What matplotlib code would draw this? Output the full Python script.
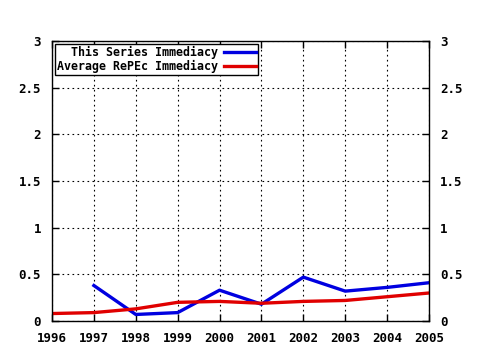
import matplotlib
matplotlib.use("Agg")
import matplotlib.pyplot as plt
from matplotlib.ticker import MultipleLocator, FuncFormatter

years_blue = [1997, 1998, 1999, 2000, 2001, 2002, 2003, 2004, 2005]
series_imm = [0.38, 0.07, 0.09, 0.33, 0.18, 0.47, 0.32, 0.36, 0.41]
years_red = [1996, 1997, 1998, 1999, 2000, 2001, 2002, 2003, 2004, 2005]
repec_imm = [0.08, 0.09, 0.13, 0.20, 0.21, 0.19, 0.21, 0.22, 0.26, 0.30]
labels = ["  This Series Immediacy", "Average RePEc Immediacy"]

font = "DejaVu Sans Mono"
fs = 8.4
fig = plt.figure(figsize=(4.8, 3.5), dpi=100)
ax = fig.add_axes([52/480, 29/350, 377/480, 280/350])
ax.plot(years_blue, series_imm, color="#0000e0", lw=2.4, label=labels[0])
ax.plot(years_red, repec_imm, color="#e00000", lw=2.4, label=labels[1])
ax.set_xlim(1996, 2005)
ax.set_ylim(0, 3)
ax.xaxis.set_major_locator(MultipleLocator(1))
ax.yaxis.set_major_locator(MultipleLocator(0.5))
ax.yaxis.set_major_formatter(FuncFormatter(lambda v, p: "%g" % v))
ax.grid(True, color="black", linestyle=(0, (1.5, 3)), linewidth=0.8)
ax.tick_params(direction="in", length=5, width=1, top=True, right=True,
               labelright=True, labelsize=fs + 0.6, pad=8)
for lab in ax.get_xticklabels() + ax.get_yticklabels() + ax.yaxis.get_ticklabels(which="major"):
    lab.set_fontfamily(font)
    lab.set_fontweight("bold")
for t in ax.yaxis.get_major_ticks():
    t.label2.set_fontfamily(font)
    t.label2.set_fontweight("bold")
for s in ax.spines.values():
    s.set_linewidth(1)
leg = ax.legend(loc="upper left", markerfirst=False, fancybox=False, framealpha=1,
                edgecolor="black", borderaxespad=0.25, handlelength=2.8, handletextpad=0.5,
                borderpad=0.15, labelspacing=0.1,
                prop={"family": font, "weight": "bold", "size": fs})
leg.get_frame().set_linewidth(1)
fig.savefig("out.png", dpi=100, facecolor="white")
